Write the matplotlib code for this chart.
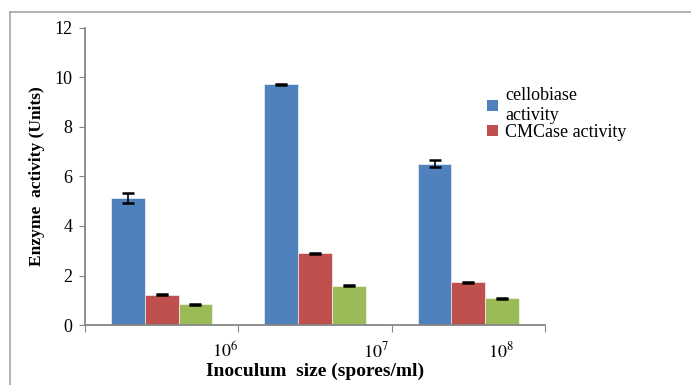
import matplotlib
matplotlib.use("Agg")
import matplotlib.pyplot as plt
import numpy as np
from matplotlib.patches import Patch
from matplotlib.lines import Line2D

plt.rcParams['font.family'] = ['Liberation Serif', 'DejaVu Serif']
plt.rcParams['mathtext.fontset'] = 'stix'

categories = ['$10^6$', '$10^7$', '$10^8$']
series_names = ['cellobiase\nactivity', 'CMCase activity', 'FPase activity']
cellobiase = [5.12, 9.72, 6.52]
cellobiase_err = [0.21, 0.03, 0.14]
cmcase = [1.23, 2.90, 1.73]
cmcase_err = [0.02, 0.02, 0.02]
third = [0.83, 1.58, 1.09]
third_err = [0.02, 0.02, 0.02]
y_ticks = [0, 2, 4, 6, 8, 10, 12]

colors = ['#4F81BD', '#C0504D', '#9BBB59']

fig = plt.figure(figsize=(6.91, 3.85), dpi=100)
ax = fig.add_axes([85/691, 1-325/385, (545-85)/691, (325-28)/385])

x = np.arange(len(categories))
w = 0.22
series = [(cellobiase, cellobiase_err), (cmcase, cmcase_err), (third, third_err)]
for i, ((vals, errs), c) in enumerate(zip(series, colors)):
    ax.bar(x + (i-1)*w, vals, w, color=c, edgecolor='white', linewidth=0.4,
           yerr=errs, error_kw=dict(ecolor='black', elinewidth=1.2, capsize=4, capthick=1.8),
           zorder=2)

ax.set_xlim(-0.5, 2.5)
ax.set_ylim(0, 12)
ax.set_yticks(y_ticks)
ax.set_yticklabels([str(t) for t in y_ticks], fontsize=13)

# major ticks at category boundaries, no labels
ax.set_xticks(np.arange(len(categories)+1) - 0.5)
ax.set_xticklabels([])
# labels placed as in the reference (offset from category centres)
label_pos = [0.415, 1.395, 2.21]
ax.set_xticks(label_pos, minor=True)
ax.set_xticklabels(categories, minor=True, fontsize=13)
ax.tick_params(axis='x', which='minor', length=0, pad=12)
ax.tick_params(axis='x', which='major', length=5, color='#868686', direction='out')
ax.tick_params(axis='y', length=4, color='#868686', direction='out', pad=5)

for s in ['top', 'right']:
    ax.spines[s].set_visible(False)
for s in ['left', 'bottom']:
    ax.spines[s].set_color('#868686')
    ax.spines[s].set_linewidth(1.3)

ax.set_ylabel('Enzyme  activity (Units)', fontsize=12.5, fontweight='bold', labelpad=7)
ax.set_xlabel('Inoculum  size (spores/ml)', fontsize=14, fontweight='bold', labelpad=1)

handles = [Patch(facecolor=colors[0]), Patch(facecolor=colors[1])]
leg = fig.legend(handles, series_names[:2], loc='upper left',
                 bbox_to_anchor=(480/691, 1-80/385), frameon=False, fontsize=13,
                 handlelength=0.6, handleheight=0.6, handletextpad=0.4,
                 labelspacing=0.0, borderaxespad=0)

# outer frame lines
fig.add_artist(Line2D([10/691, 1], [1-12/385, 1-12/385], color='#A6A6A6', lw=1.2))
fig.add_artist(Line2D([10/691, 10/691], [0, 1-12/385], color='#A6A6A6', lw=1.2))

fig.savefig('out.png', dpi=100)
